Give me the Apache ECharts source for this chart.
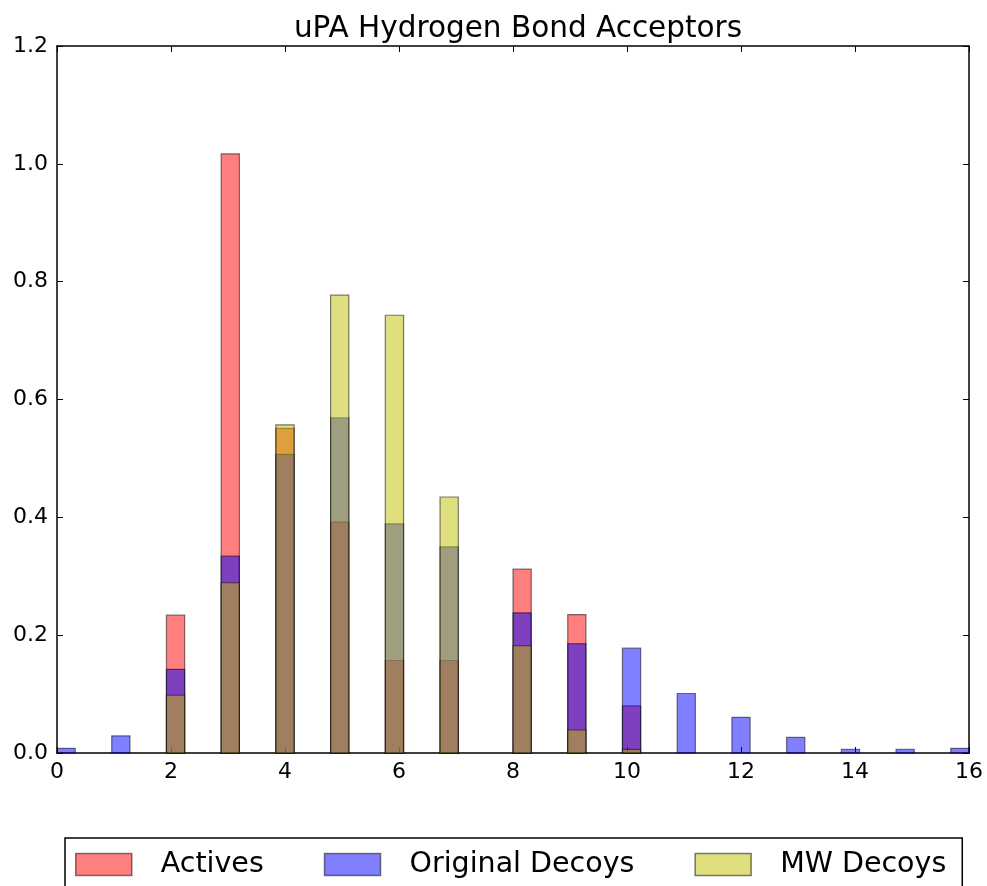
<!DOCTYPE html>
<html>
<head>
<meta charset="utf-8">
<script src="https://cdn.jsdelivr.net/npm/echarts@6/dist/echarts.min.js"></script>
<style>html,body{margin:0;padding:0;background:#fff}#c{width:987px;height:886px}</style>
</head>
<body>
<div id="c"></div>
<script>
// Hydrogen bond acceptor counts (histogram, density-normalised)
const activesX = [2, 3, 4, 5, 6, 7, 8, 9, 10];
const activesY = [0.234, 1.017, 0.551, 0.392, 0.157, 0.157, 0.312, 0.235, 0.080];

const origX = [0, 1, 2, 3, 4, 5, 6, 7, 8, 9, 10, 11, 12, 13, 14, 15, 16];
const origY = [0.008, 0.029, 0.142, 0.334, 0.507, 0.569, 0.389, 0.350, 0.238, 0.1855, 0.178, 0.101, 0.0606, 0.0266, 0.006, 0.006, 0.008];

const mwX = [2, 3, 4, 5, 6, 7, 8, 9, 10];
const mwY = [0.098, 0.289, 0.557, 0.777, 0.743, 0.4345, 0.182, 0.039, 0.006];

const xTicks = [0, 2, 4, 6, 8, 10, 12, 14, 16];
const yTicks = [0.0, 0.2, 0.4, 0.6, 0.8, 1.0, 1.2];

const seriesNames = ['Actives', 'Original Decoys', 'MW Decoys'];
const fills = ['rgba(255,0,0,0.5)', 'rgba(0,0,255,0.5)', 'rgba(191,191,0,0.5)'];

// histogram bins: 50 equal bins over [0, 16]
const xMin = 0, xMax = 16, nBins = 50;
const binW = (xMax - xMin) / nBins;

function binOf(v) {
  let b = Math.floor((v - xMin) / binW + 1e-9);
  if (b >= nBins) b = nBins - 1;
  return b;
}

function makeSeries(name, xs, ys, fill) {
  return {
    type: 'custom',
    name: name,
    data: xs.map((x, i) => [x, ys[i]]),
    itemStyle: { color: fill, borderColor: 'rgba(0,0,0,0.5)', borderWidth: 1 },
    renderItem: function (params, api) {
      const b = binOf(api.value(0));
      const x0 = xMin + b * binW, x1 = x0 + binW;
      const p0 = api.coord([x0, api.value(1)]);
      const p1 = api.coord([x1, 0]);
      return {
        type: 'rect',
        shape: { x: p0[0], y: p0[1], width: p1[0] - p0[0], height: p1[1] - p0[1] },
        style: { fill: fill, stroke: 'rgba(0,0,0,0.5)', lineWidth: 1.2 }
      };
    }
  };
}

const font = 'DejaVu Sans';
const chart = echarts.init(document.getElementById('c'), null, { renderer: 'canvas' });

const axisLine = { show: true, onZero: false, lineStyle: { color: '#000', width: 1.5 } };
const tickInside = { show: true, inside: true, length: 6, lineStyle: { color: '#000', width: 1 } };

chart.setOption({
  animation: false,
  backgroundColor: '#fff',
  title: {
    text: 'uPA Hydrogen Bond Acceptors',
    left: 513,
    textAlign: 'center',
    top: 9,
    textStyle: { fontFamily: font, fontSize: 29.5, fontWeight: 'normal', color: '#000' }
  },
  grid: { left: 57, right: 18, top: 46, bottom: 133, containLabel: false },
  legend: {
    data: seriesNames.map((n, i) => ({ name: n, itemStyle: { color: fills[i], borderColor: 'rgba(0,0,0,0.5)', borderWidth: 1.5 } })),
    left: 65,
    top: 838,
    orient: 'horizontal',
    icon: 'rect',
    itemWidth: 56,
    itemHeight: 22,
    itemGap: 60,
    padding: [12, 16, 40, 10],
    borderColor: '#000',
    borderWidth: 1.5,
    textStyle: { fontFamily: font, fontSize: 28.5, color: '#000', padding: [0, 0, 0, 24] }
  },
  xAxis: [{
    type: 'value', min: xMin, max: xMax, interval: 2,
    axisLine: axisLine, axisTick: tickInside, splitLine: { show: false },
    axisLabel: { fontFamily: font, fontSize: 22, color: '#000', margin: 8,
      customValues: xTicks, formatter: v => String(v) },
  }, {
    type: 'value', min: xMin, max: xMax, interval: 2, position: 'top',
    axisLine: axisLine, axisTick: tickInside, splitLine: { show: false },
    axisLabel: { show: false }
  }],
  yAxis: [{
    type: 'value', min: 0, max: 1.2, interval: 0.2,
    axisLine: axisLine, axisTick: tickInside, splitLine: { show: false },
    axisLabel: { fontFamily: font, fontSize: 22, color: '#000', margin: 9,
      formatter: v => v.toFixed(1) }
  }, {
    type: 'value', min: 0, max: 1.2, interval: 0.2, position: 'right',
    axisLine: axisLine, axisTick: tickInside, splitLine: { show: false },
    axisLabel: { show: false }
  }],
  series: [
    makeSeries(seriesNames[0], activesX, activesY, fills[0]),
    makeSeries(seriesNames[1], origX, origY, fills[1]),
    makeSeries(seriesNames[2], mwX, mwY, fills[2])
  ]
});
</script>
</body>
</html>
